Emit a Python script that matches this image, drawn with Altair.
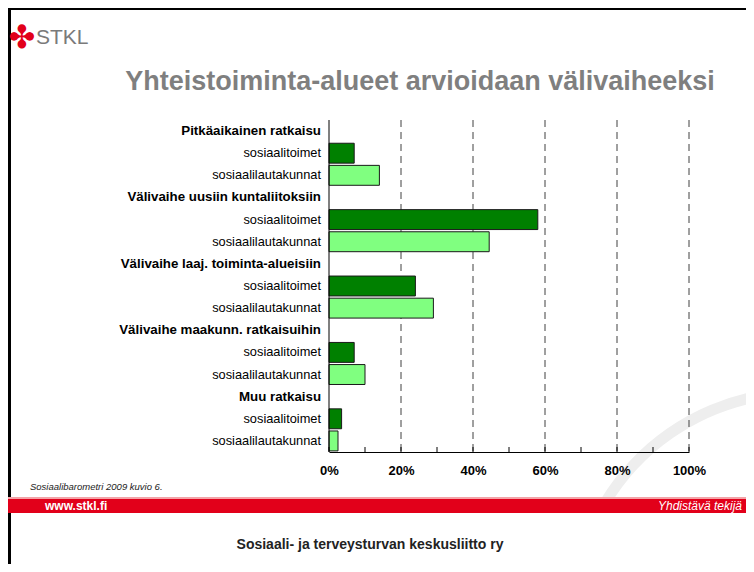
import altair as alt
import pandas as pd

# ---- data ----
groups = ["Pitkäaikainen ratkaisu", "Välivaihe uusiin kuntaliitoksiin",
          "Välivaihe laaj. toiminta-alueisiin", "Välivaihe maakunn. ratkaisuihin",
          "Muu ratkaisu"]
series = ["sosiaalitoimet", "sosiaalilautakunnat"]
toimet = [7.0, 58.0, 24.0, 7.0, 3.5]
lautakunnat = [14.0, 44.5, 29.0, 10.0, 2.5]
x_ticks = [0, 10, 20, 30, 40, 50, 60, 70, 80, 90, 100]
grid_vals = [20, 40, 60, 80, 100]

rows = []
for gi, g in enumerate(groups):
    rows.append({"id": f"r{gi}0", "label": g, "kind": "header", "series": None, "value": None})
    rows.append({"id": f"r{gi}1", "label": series[0], "kind": "item", "series": series[0], "value": toimet[gi]})
    rows.append({"id": f"r{gi}2", "label": series[1], "kind": "item", "series": series[1], "value": lautakunnat[gi]})
df = pd.DataFrame(rows)
order = list(df["id"])
bars_df = df[df["kind"] == "item"]

W, H = 360, 332
PL, PT = 321, 112
TOTAL_W, TOTAL_H = 738, 556
PR, PB = TOTAL_W - PL - W, TOTAL_H - PT - H
FONT = "Liberation Sans"

yscale = alt.Scale(domain=order, paddingInner=0.1, paddingOuter=0.05)
xscale = alt.Scale(domain=[0, 100])

one = alt.Data(values=[{"a": 1}])


def px(page_x):
    return page_x - 8 - PL


def py(page_y):
    return page_y - 8 - PT


def text(t, x, y, size, color="black", weight="normal", style="normal", align="left", font=FONT):
    return alt.Chart(one).mark_text(
        text=t, fontSize=size, color=color, fontWeight=weight, fontStyle=style,
        align=align, baseline="middle", font=font
    ).encode(x=alt.value(px(x)), y=alt.value(py(y)))


def rect(x1, x2, y1, y2, color):
    return alt.Chart(one).mark_rect(color=color).encode(
        x=alt.value(px(x1)), x2=alt.value(px(x2)), y=alt.value(py(y1)), y2=alt.value(py(y2)))


# decorative frame / band / swoosh
frame_left = rect(8, 11, 8, 564, "black")
frame_top = rect(8, 746, 8, 10, "black")
band = rect(8, 746, 499, 513, "#e2001a")
band_top = rect(8, 746, 497, 499, "#f4a3a8")
swoosh = alt.Chart(one).mark_arc(
    color="#eeeeee", radius=222, radius2=233, theta=5.25, theta2=6.1
).encode(x=alt.value(px(800)), y=alt.value(py(620)))

grid = alt.Chart(pd.DataFrame({"g": grid_vals})).mark_rule(
    color="#404040", strokeDash=[7, 5], strokeWidth=1
).encode(x=alt.X("g:Q", scale=xscale), y=alt.value(0), y2=alt.value(H))

bars = alt.Chart(bars_df).mark_bar(stroke="#1a1a1a", strokeWidth=1).encode(
    y=alt.Y("id:N", scale=yscale, axis=None, sort=order),
    x=alt.X("value:Q", scale=xscale, axis=alt.Axis(
        values=[0, 20, 40, 60, 80, 100], labelExpr="datum.value + '%'",
        labelFont=FONT, labelFontWeight="bold", labelFontSize=13, labelColor="black",
        labelPadding=12, ticks=False, grid=False, domainColor="black", domainWidth=1,
        title=None, labelFlush=False, zindex=1)),
    color=alt.Color("series:N", scale=alt.Scale(domain=series, range=["#008000", "#80ff80"]), legend=None),
)

ticks = alt.Chart(pd.DataFrame({"t": x_ticks})).mark_rule(color="black", strokeWidth=1).encode(
    x=alt.X("t:Q", scale=xscale), y=alt.value(H - 5), y2=alt.value(H))

yaxis = alt.Chart(one).mark_rule(color="black", strokeWidth=1).encode(
    x=alt.value(0), y=alt.value(0), y2=alt.value(H))

labels_item = alt.Chart(df[df["kind"] == "item"]).mark_text(
    align="right", baseline="middle", fontSize=12.8, font=FONT, color="black", dx=-8
).encode(y=alt.Y("id:N", scale=yscale, sort=order, axis=None), x=alt.value(0), text="label:N")

labels_head = alt.Chart(df[df["kind"] == "header"]).mark_text(
    align="right", baseline="middle", fontSize=13.3, font=FONT, color="black", fontWeight="bold", dx=-8
).encode(y=alt.Y("id:N", scale=yscale, sort=order, axis=None), x=alt.value(0), text="label:N")

logo_flower = text("✤", 22, 38, 32, color="#e2001a", align="center", font="DejaVu Sans")
logo_text = text("STKL", 36, 38, 21, color="#7a7a7a")
title = text("Yhteistoiminta-alueet arvioidaan välivaiheeksi", 420, 82, 27,
             color="#7f7f7f", weight="bold", align="center")
foot = text("Sosiaalibarometri 2009 kuvio 6.", 30, 487, 9.5, color="#222222", style="italic")
www = text("www.stkl.fi", 45, 506, 12, color="white", weight="bold")
motto = text("Yhdistävä tekijä", 742, 506, 12, color="white", style="italic", align="right")
org = text("Sosiaali- ja terveysturvan keskusliitto ry", 370, 545, 14, color="#222222",
           weight="bold", align="center")

chart = alt.layer(
    swoosh, frame_left, frame_top, band_top, band, grid, bars, ticks, yaxis, labels_item, labels_head,
    logo_flower, logo_text, title, foot, www, motto, org
).properties(
    width=W, height=H,
    padding={"left": PL, "top": PT, "right": PR, "bottom": PB},
    autosize=alt.AutoSizeParams(type="none"),
    background="white",
).configure_view(stroke=None)

chart.save("out.html", embed_options={"renderer": "svg", "actions": False})
